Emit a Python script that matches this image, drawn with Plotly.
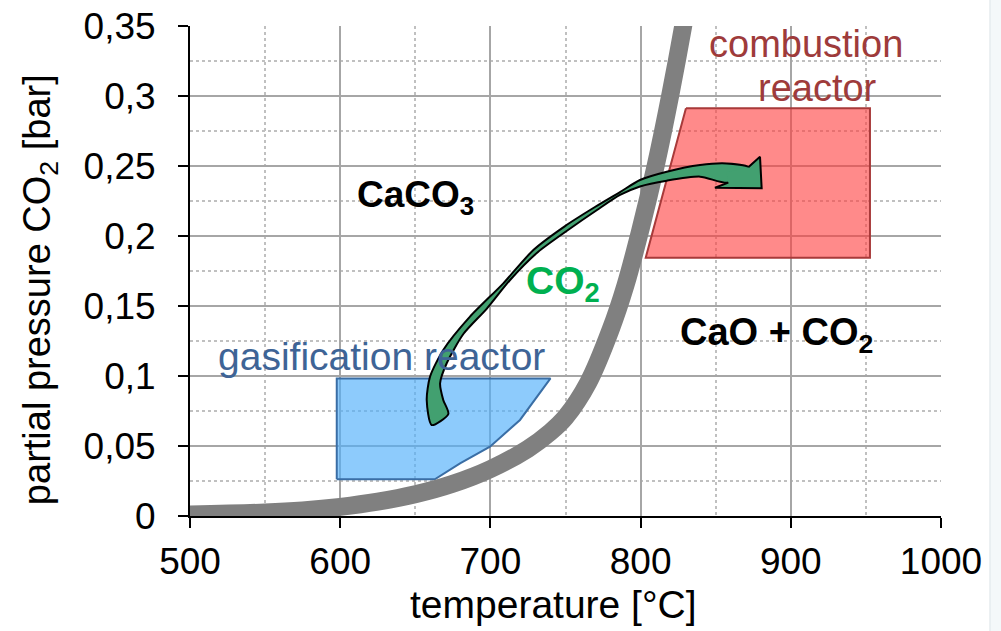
import plotly.graph_objects as go

# --- equilibrium curve CaCO3 <-> CaO + CO2 ---
curve_T = [500, 550, 575, 600, 625, 650, 675, 700, 725, 740, 750, 765, 780, 790, 800, 810, 820, 830, 840]
curve_p = [0.001, 0.0025, 0.004, 0.0065, 0.0102, 0.0155, 0.023, 0.0335, 0.048, 0.060, 0.0705, 0.095,
           0.133, 0.165, 0.205, 0.25, 0.302, 0.36, 0.425]

# --- gasification reactor region ---
gas_T = [597.7, 597.7, 740.0, 726.4, 719.7, 699.7, 679.8, 663.0, 597.7]
gas_p = [0.0262, 0.0983, 0.0983, 0.0781, 0.0686, 0.0495, 0.0376, 0.0262, 0.0262]

# --- combustion reactor region ---
comb_T = [830.2, 952.7, 952.7, 803.4, 830.2]
comb_p = [0.2912, 0.2912, 0.1845, 0.1845, 0.2912]

# --- CO2 transfer arrow: body (upper side tail->head, then lower side head->tail) ---
arrow_upper_T = [660.9, 657.6, 659.8, 668.6, 686.4, 708.6, 728.6, 749.7, 769.6, 786.3, 799.6, 817.4,
                 839.6, 857.3, 871.7]
arrow_upper_p = [0.0650, 0.0829, 0.0995, 0.1186, 0.1424, 0.1662, 0.1900, 0.2071, 0.2207, 0.2314,
                 0.2400, 0.2459, 0.2507, 0.2518, 0.2491]
arrow_lower_T = [858.4, 839.6, 817.4, 799.6, 786.3, 771.0, 751.7, 731.7, 713.1, 697.5, 682.0, 670.9,
                 666.5, 668.6, 672.0]
arrow_lower_p = [0.2381, 0.2424, 0.2395, 0.2354, 0.2293, 0.2186, 0.2043, 0.1886, 0.1686, 0.1480,
                 0.1300, 0.1091, 0.0948, 0.0829, 0.0729]
# arrow head: upper join, tip barb A, tip B, barb C, lower join
head_T = [871.7, 879.5, 880.6, 849.5, 858.4]
head_p = [0.2491, 0.2566, 0.2341, 0.2345, 0.2381]

# --- axis ticks ---
x_ticks = [500, 600, 700, 800, 900, 1000]
y_ticks = [0, 0.05, 0.1, 0.15, 0.2, 0.25, 0.3, 0.35]
y_ticktext = ["0", "0,05", "0,1", "0,15", "0,2", "0,25", "0,3", "0,35"]

FONT = "Liberation Sans, Arial, sans-serif"
ARROW_FILL = "#42A070"

fig = go.Figure()

fig.add_trace(go.Scatter(x=gas_T, y=gas_p, mode="lines", fill="toself",
                         fillcolor="rgba(80,175,250,0.65)",
                         line=dict(color="#3A6EA5", width=2), hoverinfo="skip"))
fig.add_trace(go.Scatter(x=comb_T, y=comb_p, mode="lines", fill="toself",
                         fillcolor="rgba(255,60,60,0.6)",
                         line=dict(color="#A83A3A", width=2), hoverinfo="skip"))
fig.add_trace(go.Scatter(x=curve_T, y=curve_p, mode="lines",
                         line=dict(color="#808080", width=18, shape="spline", smoothing=1),
                         hoverinfo="skip"))

body_T = arrow_upper_T + arrow_lower_T + arrow_upper_T[:1]
body_p = arrow_upper_p + arrow_lower_p + arrow_upper_p[:1]
fig.add_trace(go.Scatter(x=body_T, y=body_p, mode="lines", fill="toself",
                         fillcolor=ARROW_FILL,
                         line=dict(color="#000000", width=2, shape="spline", smoothing=0.7),
                         hoverinfo="skip"))
# head fill (extends slightly into body to hide the joining edge)
hf_T = head_T + [(head_T[0] + head_T[4]) / 2 - 8, head_T[0]]
hf_p = head_p + [(head_p[0] + head_p[4]) / 2 + 0.002, head_p[0]]
fig.add_trace(go.Scatter(x=hf_T, y=hf_p, mode="lines", fill="toself",
                         fillcolor=ARROW_FILL, line=dict(color=ARROW_FILL, width=0),
                         hoverinfo="skip"))
fig.add_trace(go.Scatter(x=head_T, y=head_p, mode="lines",
                         line=dict(color="#000000", width=2), hoverinfo="skip"))

ann = [
    dict(x=910.1, y=0.3371, text="combustion", font=dict(size=38, color="#9E3B3B", family=FONT)),
    dict(x=917.5, y=0.3057, text="reactor", font=dict(size=38, color="#9E3B3B", family=FONT)),
    dict(x=627.6, y=0.1136, text="gasification reactor", font=dict(size=39, color="#3E6496", family=FONT)),
    dict(x=649.8, y=0.228, text="<b>CaCO<sub>3</sub></b>", font=dict(size=37, color="#000000", family=FONT)),
    dict(x=890.2, y=0.129, text="<b>CaO + CO<sub>2</sub></b>", font=dict(size=38, color="#000000", family=FONT)),
    dict(x=748, y=0.166, text="<b>CO<sub>2</sub></b>", font=dict(size=39, color="#00B050", family=FONT)),
]
for a in ann:
    fig.add_annotation(xref="x", yref="y", showarrow=False, xanchor="center", yanchor="middle", **a)

# axis titles
fig.add_annotation(xref="paper", yref="paper", x=0.484, y=-0.1816, showarrow=False,
                   xanchor="center", yanchor="middle", text="temperature [°C]",
                   font=dict(size=39, color="black", family=FONT))
fig.add_annotation(xref="paper", yref="paper", x=-0.1997, y=0.461, showarrow=False,
                   xanchor="center", yanchor="middle", textangle=-90,
                   text="partial pressure CO<sub>2</sub> [bar]",
                   font=dict(size=38, color="black", family=FONT))

fig.add_shape(type="rect", xref="paper", yref="paper", x0=1.0652, x1=1.2, y0=-0.4, y1=1.2,
              fillcolor="#F4F8FA", line=dict(color="#DCE4E8", width=1), layer="below")

fig.update_layout(
    width=1001, height=631,
    margin=dict(l=190, r=60, t=26, b=115, autoexpand=False),
    paper_bgcolor="white", plot_bgcolor="white",
    showlegend=False,
    font=dict(family=FONT, color="black"),
)
fig.update_xaxes(
    range=[500, 1000], tickmode="array", tickvals=x_ticks, automargin=False,
    showline=True, linecolor="black", linewidth=2,
    ticks="outside", ticklen=10, tickwidth=2, tickcolor="black",
    tickfont=dict(size=37, family=FONT), ticklabelstandoff=2,
    showgrid=True, gridcolor="#A6A6A6", gridwidth=2, zeroline=False,
    minor=dict(tick0=500, dtick=50, showgrid=True, gridcolor="#C0C0C0", griddash="dot", gridwidth=2, ticks=""),
)
fig.update_yaxes(
    range=[0, 0.35], tickmode="array", tickvals=y_ticks, ticktext=y_ticktext, automargin=False,
    showline=True, linecolor="black", linewidth=2,
    ticks="outside", ticklen=10, tickwidth=2, tickcolor="black",
    tickfont=dict(size=37, family=FONT), ticklabelstandoff=15,
    showgrid=True, gridcolor="#A6A6A6", gridwidth=2, zeroline=False,
    minor=dict(tick0=0, dtick=0.025, showgrid=True, gridcolor="#C0C0C0", griddash="dot", gridwidth=2, ticks=""),
)

fig.write_html("out.html")
